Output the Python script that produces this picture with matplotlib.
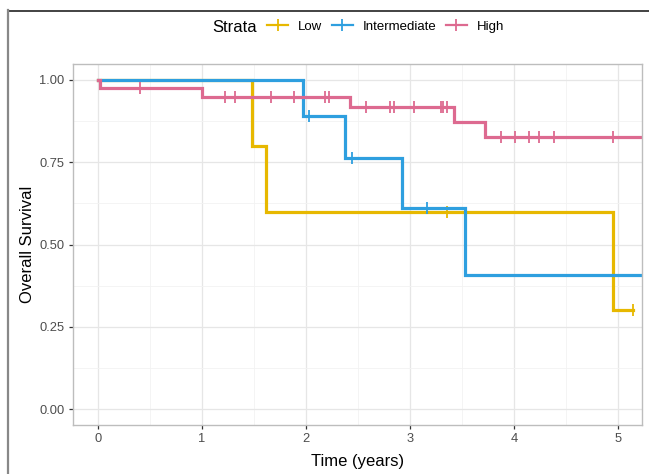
import numpy as np
import matplotlib
matplotlib.use('Agg')
import matplotlib.pyplot as plt
from matplotlib.lines import Line2D

plt.rcParams['font.family'] = ['Liberation Sans', 'DejaVu Sans']

# Kaplan-Meier step data
strata = ['Low', 'Intermediate', 'High']
colors = ['#E7B800', '#2E9FDF', '#DD6A90']

low_t = [0.0, 1.48, 1.62, 4.95, 5.14]
low_s = [1.0, 0.80, 0.60, 0.30, 0.30]
low_cens = [3.36, 5.14]

int_t = [0.0, 1.97, 2.375, 2.92, 3.53, 5.4]
int_s = [1.0, 0.889, 0.762, 0.610, 0.407, 0.407]
int_cens = [2.03, 2.44, 3.16]

high_t = [0.0, 0.02, 1.0, 2.42, 3.42, 3.72, 5.4]
high_s = [1.0, 0.975, 0.948, 0.917, 0.872, 0.825, 0.825]
high_cens = [0.40, 1.22, 1.32, 1.66, 1.88, 2.18, 2.22, 2.58, 2.81, 2.85,
             3.04, 3.30, 3.32, 3.36, 3.87, 4.01, 4.14, 4.24, 4.38, 4.95]

x_ticks = [0, 1, 2, 3, 4, 5]
y_ticks = [0.0, 0.25, 0.5, 0.75, 1.0]
y_labels = ['0.00', '0.25', '0.50', '0.75', '1.00']


def surv_at(t, s, x):  # value of the step function at time x
    idx = np.searchsorted(t, x, side='right') - 1
    return np.array(s)[idx]


fig = plt.figure(figsize=(6.49, 4.74), dpi=100)
ax = fig.add_axes([73 / 649, 1 - 425 / 474, (642 - 73) / 649, (425 - 64) / 474])

series = [(low_t, low_s, low_cens), (int_t, int_s, int_cens), (high_t, high_s, high_cens)]
for (t, s, c), col, name in zip(series, colors, strata):
    ax.step(t, s, where='post', color=col, lw=2.3, solid_joinstyle='miter')
    ax.plot(c, surv_at(t, s, c), ls='none', marker='|', ms=8, mew=1.3, color=col)

ax.set_xlim(-0.24, 5.23)
ax.set_ylim(-0.048, 1.048)
ax.set_xticks(x_ticks)
ax.set_yticks(y_ticks)
ax.set_yticklabels(y_labels)
ax.set_xticks(np.arange(0.5, 5.5, 1.0), minor=True)
ax.set_yticks(np.arange(0.125, 1.0, 0.25), minor=True)
ax.grid(which='major', color='#E6E6E6', lw=0.9)
ax.grid(which='minor', color='#F2F2F2', lw=0.6)
ax.set_axisbelow(True)
ax.tick_params(which='major', length=3, width=0.9, color='#333333',
               labelcolor='#4D4D4D', labelsize=9.3, pad=3)
ax.tick_params(which='minor', length=0)
for sp in ax.spines.values():
    sp.set_color('#BDBDBD')
    sp.set_linewidth(1.0)

ax.set_xlabel('Time (years)', fontsize=12, labelpad=6)
ax.set_ylabel('Overall Survival', fontsize=12, labelpad=3)

handles = [Line2D([], [], color=col, lw=1.6, marker='|', ms=8, mew=1.3) for col in colors]
fig.legend(handles, strata, loc='center', bbox_to_anchor=(0.594, 1 - 27 / 474), ncol=3,
           frameon=False, fontsize=9.5, handlelength=1.6, handletextpad=0.75,
           columnspacing=0.7)
fig.text(0.361, 1 - 27 / 474, 'Strata', fontsize=12, ha='center', va='center')

# outer frame lines of the screenshot
fig.add_artist(Line2D([8 / 649, 1], [1 - 10.5 / 474, 1 - 10.5 / 474],
                      transform=fig.transFigure, color='#222222', lw=1.2))
fig.add_artist(Line2D([8 / 649, 8 / 649], [0, 1 - 10 / 474],
                      transform=fig.transFigure, color='#888888', lw=1.6))

fig.savefig('out.png', dpi=100)
